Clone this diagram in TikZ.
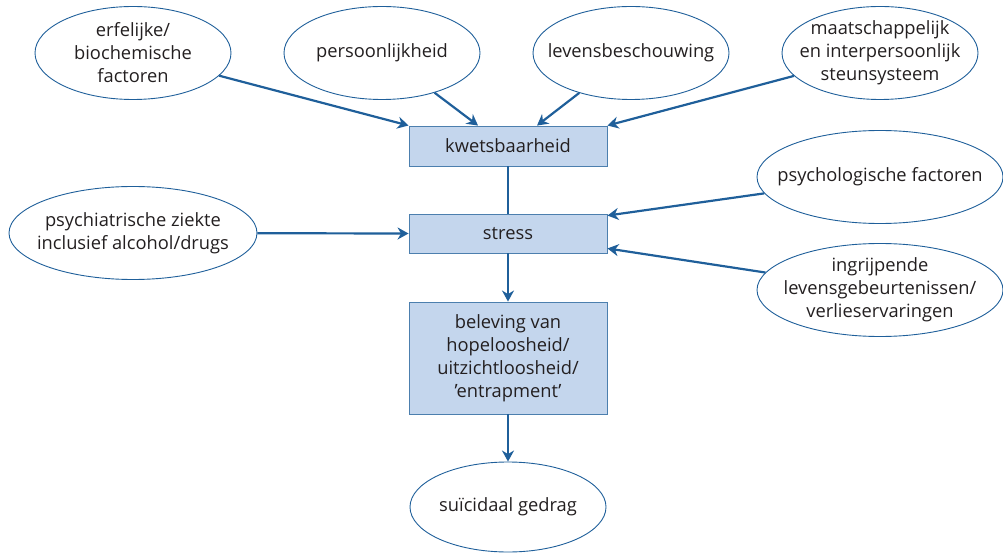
\documentclass[tikz,border=0pt]{standalone}
\usepackage{fontspec}
\setmainfont{Open Sans}
\usetikzlibrary{shapes.geometric,arrows.meta}

\definecolor{lijnblauw}{RGB}{31,95,154}
\definecolor{vakblauw}{RGB}{196,214,237}
\definecolor{tekstgrijs}{RGB}{35,31,32}

\begin{document}
\begin{tikzpicture}[x=1pt, y=-1pt,
    factor/.style={ellipse, draw=lijnblauw, line width=0.9pt,
        minimum width=196pt, minimum height=93pt,
        inner xsep=-50pt, inner ysep=-25pt, align=center,
        text=tekstgrijs, font=\fontsize{18.3}{23}\selectfont},
    vak/.style={rectangle, draw=lijnblauw!80, line width=0.9pt, fill=vakblauw,
        minimum width=198pt, minimum height=40pt, align=center,
        text=tekstgrijs, font=\fontsize{18.3}{23}\selectfont},
    pijl/.style={lijnblauw, line width=2.2pt,
        -{Stealth[length=11pt, width=12pt, inset=3.5pt]}}]

    % Fix the page size
    \useasboundingbox (0,0) rectangle (1003,553);

    % Top row of factors
    \node[factor] (erfelijk) at (133,53) {erfelijke/\\biochemische\\factoren};
    \node[factor] (persoon) at (382,53) {persoonlijkheid};
    \node[factor] (levens) at (631,53) {levensbeschouwing};
    \node[factor] (steun) at (880,53) {maatschappelijk\\en interpersoonlijk\\steunsysteem};

    % Middle column
    \node[vak] (kwets) at (508,146) {kwetsbaarheid};
    \node[vak, minimum height=39pt] (stress) at (508,233.5) {stress};
    \node[vak, minimum height=112pt] (beleving) at (508,358)
        {beleving van\\hopeloosheid/\\uitzichtloosheid/\\’entrapment’};
    \node[factor, minimum height=90pt] (suicide) at (508,507) {suïcidaal gedrag};

    % Side factors
    \node[factor, minimum width=248pt] (psychiatrie) at (133,233)
        {psychiatrische ziekte\\inclusief alcohol/drugs};
    \node[factor, minimum width=246pt] (psychologie) at (880,177) {psychologische factoren};
    \node[factor, minimum width=246pt] (ingrijpend) at (880,290)
        {ingrijpende\\levensgebeurtenissen/\\verlieservaringen};

    % Arrows into kwetsbaarheid
    \draw[pijl] (erfelijk) -- (kwets.north west);
    \draw[pijl] (persoon) -- ([xshift=-30pt]kwets.north);
    \draw[pijl] (levens) -- ([xshift=29pt]kwets.north);
    \draw[pijl] (steun) -- (kwets.north east);

    % Arrows into stress
    \draw[lijnblauw, line width=2.2pt] (kwets) -- (stress);
    \draw[pijl] (psychiatrie) -- (stress.west);
    \draw[pijl] (psychologie) -- ([yshift=-2pt]stress.north east);
    \draw[pijl] (ingrijpend) -- ([yshift=5pt]stress.south east);

    % Down to behaviour
    \draw[pijl] (stress) -- (beleving);
    \draw[pijl] (beleving) -- (suicide);
\end{tikzpicture}
\end{document}
